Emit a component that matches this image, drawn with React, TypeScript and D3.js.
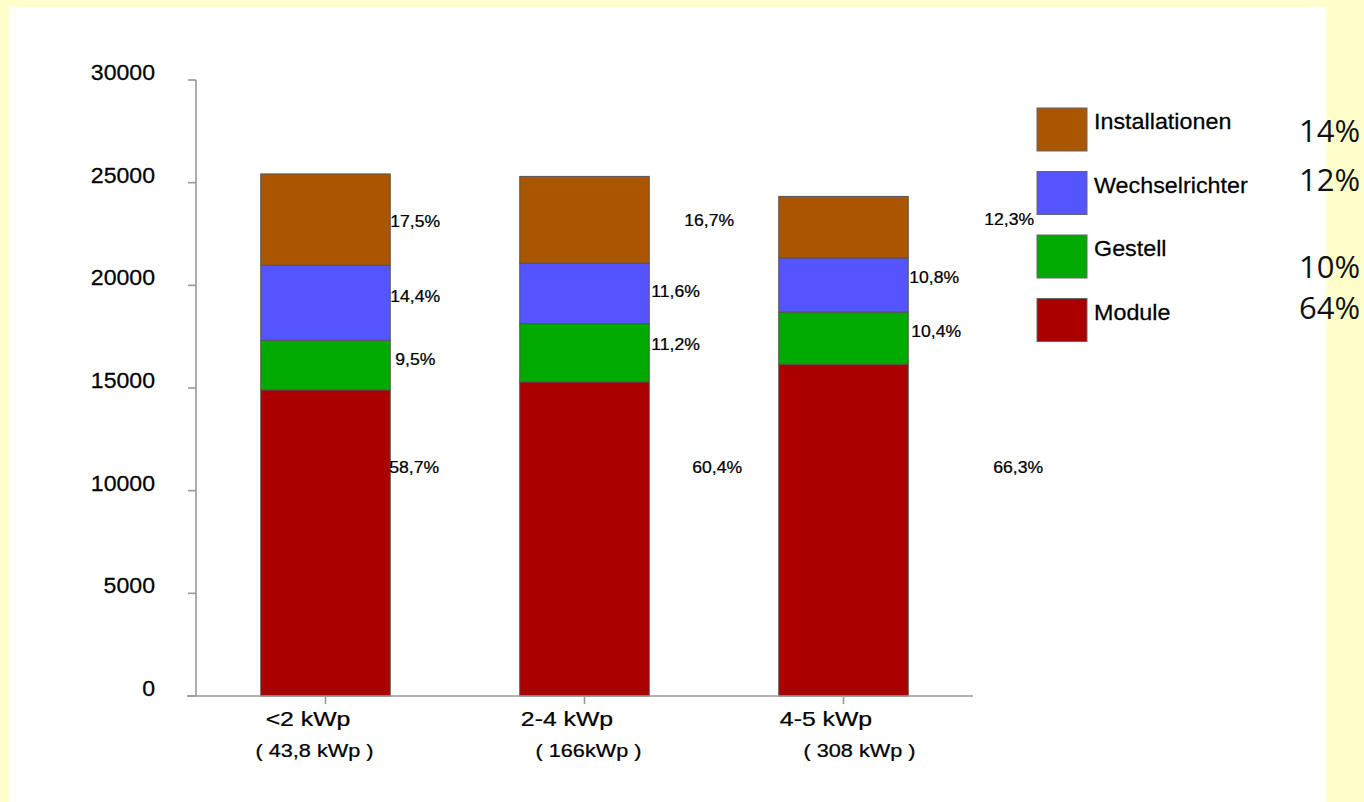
import React, { useEffect } from "react";
import * as d3 from "d3";

// Cost breakdown of small PV systems by size class
const categories = ["<2 kWp", "2-4 kWp", "4-5 kWp"];
const subLabels = ["( 43,8 kWp )", "( 166kWp )", "( 308 kWp )"];
const totals = [25400, 25330, 24380];

const seriesNames = ["Module", "Gestell", "Wechselrichter", "Installationen"];
const modulePct = [58.7, 60.4, 66.3];
const gestellPct = [9.5, 11.2, 10.4];
const wechselPct = [14.4, 11.6, 10.8];
const installPct = [17.5, 16.7, 12.3];

const yTicks = [0, 5000, 10000, 15000, 20000, 25000, 30000];

// Average shares listed beside the legend (top to bottom)
const averageShares = ["14%", "12%", "10%", "64%"];

// Layout tables (kept apart from the data)
const colors: Record<string, string> = {
  Module: "#aa0000",
  Gestell: "#00aa00",
  Wechselrichter: "#5555ff",
  Installationen: "#aa5500",
};
// label offset from the right edge of each bar (px) and the axis value it sits at
const labelDx: Record<string, number[]> = {
  Installationen: [0, 35, 76],
  Wechselrichter: [0, 2, 1],
  Gestell: [5, 2, 3],
  Module: [-1, 43, 85],
};
const labelAt: Record<string, number[]> = {
  Installationen: [23130, 23180, 23230],
  Wechselrichter: [19480, 19720, 20400],
  Gestell: [16410, 17140, 17780],
  Module: [11150, 11150, 11150],
};
const subDx = [-11, 4, 16];
const shareY = [142, 191, 278, 319];

const W = 1364;
const H = 802;
const FONT = "'Liberation Sans', Arial, Helvetica, sans-serif";
const INK = "#000";

export default function App() {
  useEffect(() => {
    document.body.style.margin = "0";
    document.body.style.overflow = "hidden";
  }, []);

  const x = d3
    .scaleBand<string>()
    .domain(categories)
    .range([196, 973])
    .paddingInner(0.5)
    .paddingOuter(0.25);
  const y = d3.scaleLinear().domain([0, 30000]).range([696, 80]);

  const pctBySeries: Record<string, number[]> = {
    Module: modulePct,
    Gestell: gestellPct,
    Wechselrichter: wechselPct,
    Installationen: installPct,
  };

  const rows = categories.map((c, i) => {
    const row: Record<string, any> = { cat: c };
    seriesNames.forEach((s) => {
      row[s] = (totals[i] * pctBySeries[s][i]) / 100;
    });
    return row;
  });
  const stacked = d3.stack<Record<string, any>>().keys(seriesNames)(rows);

  const fmtPct = (v: number) => v.toFixed(1).replace(".", ",") + "%";
  const legendNames = [...seriesNames].reverse();
  const ink = { fill: INK, stroke: INK, strokeWidth: 0.25 };

  return (
    <svg
      width={W}
      height={H}
      style={{ position: "absolute", left: 0, top: 0, display: "block" }}
      fontFamily={FONT}
    >
      <rect x={0} y={0} width={W} height={H} fill="#ffffcc" />
      <rect x={9} y={7} width={1317} height={H - 7} fill="#ffffff" />

      {/* stacked bars */}
      {stacked.map((layer) => (
        <g key={layer.key}>
          {layer.map((d, i) => (
            <rect
              key={i}
              x={x(categories[i])!}
              y={y(d[1])}
              width={x.bandwidth()}
              height={y(d[0]) - y(d[1])}
              fill={colors[layer.key]}
              stroke="#555"
              strokeWidth={1}
            />
          ))}
        </g>
      ))}

      {/* y axis */}
      <line x1={196} x2={196} y1={y(30000)} y2={y(0)} stroke="#999" strokeWidth={1.6} />
      {yTicks.map((t) => (
        <g key={t}>
          <line x1={188} x2={196} y1={y(t)} y2={y(t)} stroke="#999" strokeWidth={1.6} />
          <text
            transform={`translate(155,${y(t)}) scale(1.05,1)`}
            textAnchor="end"
            fontSize={22}
            {...ink}
          >
            {t}
          </text>
        </g>
      ))}

      {/* x axis */}
      <line x1={187} x2={973} y1={y(0)} y2={y(0)} stroke="#999" strokeWidth={1.6} />
      {categories.map((c, i) => {
        const cx = x(c)! + x.bandwidth() / 2;
        return (
          <g key={c}>
            <line x1={cx} x2={cx} y1={y(0)} y2={y(0) + 8} stroke="#999" strokeWidth={1.6} />
            <text
              transform={`translate(${cx - 17.5},726) scale(1.24,1)`}
              textAnchor="middle"
              fontSize={20}
              {...ink}
            >
              {c}
            </text>
            <text
              transform={`translate(${cx + subDx[i]},757) scale(1.24,1)`}
              textAnchor="middle"
              fontSize={17.5}
              {...ink}
            >
              {subLabels[i]}
            </text>
          </g>
        );
      })}

      {/* percentage labels */}
      {seriesNames.map((s) =>
        categories.map((c, i) => (
          <text
            key={s + c}
            transform={`translate(${x(c)! + x.bandwidth() + labelDx[s][i]},${y(
              labelAt[s][i]
            )}) scale(1.1,1)`}
            dy="0.36em"
            fontSize={16}
            {...ink}
          >
            {fmtPct(pctBySeries[s][i])}
          </text>
        ))
      )}

      {/* legend */}
      {legendNames.map((s, k) => {
        const top = 108 + k * 63.5;
        return (
          <g key={s}>
            <rect x={1037} y={top} width={50} height={43} fill={colors[s]} stroke="#666" strokeWidth={1} />
            <text
              transform={`translate(1094,${top + 21}) scale(1.06,1)`}
              fontSize={22}
              {...ink}
            >
              {s}
            </text>
          </g>
        );
      })}

      {/* average shares */}
      {averageShares.map((t, k) => (
        <text
          key={k}
          x={1299}
          y={shareY[k]}
          fontSize={31}
          fontFamily="'Open Sans', 'Noto Sans', sans-serif"
          fill="#111"
        >
          {t}
        </text>
      ))}
    </svg>
  );
}
